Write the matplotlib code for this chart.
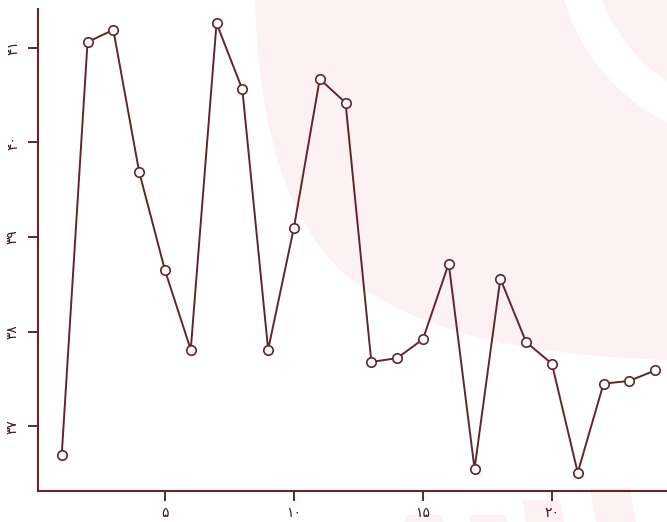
import numpy as np
import matplotlib.pyplot as plt
from matplotlib.patches import Polygon, Wedge, PathPatch
from matplotlib.path import Path

# values
x = list(range(1, 25))
y = [36.70, 41.06, 41.19, 39.69, 38.65, 37.81, 41.26, 40.56, 37.81, 39.10,
     40.67, 40.42, 37.68, 37.72, 37.92, 38.72, 36.55, 38.56, 37.89, 37.66,
     36.51, 37.45, 37.48, 37.59]
x_ticks = [5, 10, 15, 20]
x_tick_labels = ['۵', '۱۰', '۱۵', '۲۰']
y_ticks = [37, 38, 39, 40, 41]
y_tick_labels = ['۳۷', '۳۸', '۳۹', '۴۰', '۴۱']

maroon = '#5f272c'
pink = '#fdf1f3'

plt.rcParams['font.family'] = ['DejaVu Sans']

fig = plt.figure(figsize=(6.67, 5.22), dpi=100)

# faint watermark behind the chart (pixel coords)
bg = fig.add_axes([0, 0, 1, 1], zorder=0)
bg.set_xlim(0, 667)
bg.set_ylim(522, 0)
bg.axis('off')
verts = [(255, 0), (667, 0), (667, 360),
         (520, 355), (400, 330), (335, 265),
         (275, 200), (258, 100), (255, 0)]
codes = [Path.MOVETO, Path.LINETO, Path.LINETO,
         Path.CURVE4, Path.CURVE4, Path.CURVE4,
         Path.CURVE4, Path.CURVE4, Path.CURVE4]
bg.add_patch(PathPatch(Path(verts, codes), fc=pink, ec='none'))
bg.add_patch(Wedge((760, -60), 205, 0, 360, width=36, fc='white', ec='none'))
for pts in [[(405, 515), (443, 515), (443, 522), (405, 522)],
            [(470, 515), (507, 515), (507, 522), (470, 522)],
            [(522, 500), (560, 500), (564, 522), (526, 522)],
            [(590, 488), (630, 488), (636, 522), (596, 522)]]:
    bg.add_patch(Polygon(pts, closed=True, fc=pink, ec='none'))

ax = fig.add_axes([38 / 667, 1 - 491 / 522, 1 - 38 / 667, (491 - 9) / 522], zorder=1)
ax.patch.set_alpha(0)
ax.plot(x, y, color=maroon, lw=1.4, marker='o', ms=6.8, mfc='white',
        mec=maroon, mew=1.2)

ax.set_xlim(0.08, 24.46)
ax.set_ylim(36.316, 41.41)
ax.set_xticks(x_ticks)
ax.set_xticklabels(x_tick_labels)
ax.set_yticks(y_ticks)
ax.set_yticklabels(y_tick_labels, rotation=90, va='center')
ax.tick_params(colors=maroon, labelcolor='#3a1a1d', length=7, width=1.4,
               labelsize=10, pad=4)
ax.tick_params(axis='y', pad=6)
for s in ['top', 'right']:
    ax.spines[s].set_visible(False)
for s in ['left', 'bottom']:
    ax.spines[s].set_color(maroon)
    ax.spines[s].set_linewidth(1.5)

fig.savefig('out.png', dpi=100)
